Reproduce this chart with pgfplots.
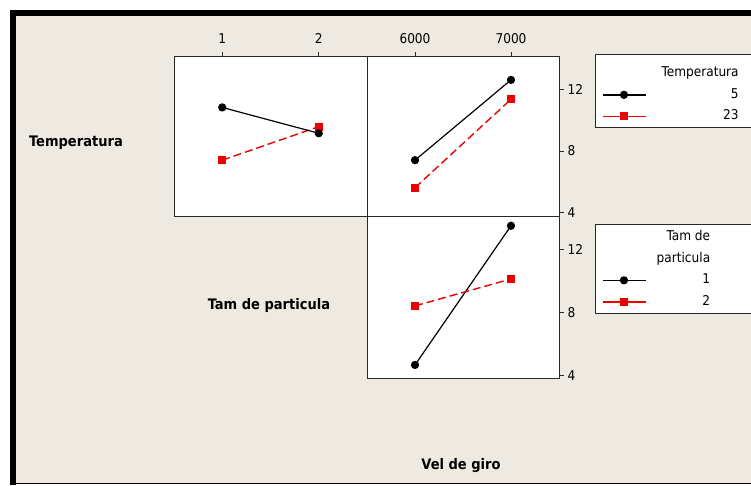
\documentclass[border=0pt]{standalone}
\usepackage{fontspec}
\setmainfont{DejaVu Sans Condensed}
\usepackage{pgfplots}
\pgfplotsset{compat=1.18}
\definecolor{bgc}{RGB}{238,234,225}
\definecolor{axc}{RGB}{40,40,40}
\definecolor{mred}{RGB}{236,0,0}
\newcommand{\tfont}{\fontsize{13.5}{15}\selectfont}
\newcommand{\lfont}{\bfseries\fontsize{14.5}{16}\selectfont}
\pgfplotsset{
  panel/.style={scale only axis, anchor=south west,
    axis background/.style={fill=white},
    axis line style={axc, line width=1pt},
    tick style={axc, line width=0.8pt},
    major tick length=5pt, tick align=outside,
    ticklabel style={font=\tfont},
    xticklabel style={yshift=5pt},
    /pgf/number format/assume math mode=true,
    /pgf/number format/1000 sep={},
    scaled ticks=false, clip=false},
  blk/.style={black, line width=1.2pt, mark=*, mark size=3.5pt, mark options={solid}},
  rd/.style={mred, line width=1.4pt, dash pattern=on 8pt off 4pt, mark=square*, mark size=3.4pt, mark options={solid}},
  leg/.style={legend cell align=right,
    legend image code/.code={\draw[##1, solid, line width=1.5pt] (0pt,0pt) -- (43pt,0pt);
      \draw[##1, solid] plot coordinates {(21pt,0pt)};},
    legend style={draw=none, fill=none, inner sep=0pt, row sep=4.5pt,
      nodes={inner sep=2pt, font=\tfont, text height=10pt, text depth=3pt}}},
}
\begin{document}
\begin{tikzpicture}
\fill[white] (0,0) rectangle (751pt,485pt);
\fill[bgc] (13pt,1.5pt) rectangle (751pt,472pt);
\draw[black, line width=6.5pt, line join=miter] (13pt,0pt) -- (13pt,472pt) -- (755pt,472pt);
\draw[black, line width=1.5pt] (13pt,1.5pt) -- (751pt,1.5pt);
% legend boxes
\draw[draw=axc, fill=white, line width=1pt] (595pt,430pt) rectangle (770pt,357pt);
\draw[draw=axc, fill=white, line width=1pt] (595pt,260pt) rectangle (770pt,172pt);
% top-left
\begin{axis}[panel, at={(174pt,269pt)}, width=193pt, height=159pt,
  xmin=0.5, xmax=2.5, ymin=3.77, ymax=14.11,
  xtick={1,2}, xtick pos=upper, xticklabel pos=upper, ytick=\empty]
\addplot[rd] coordinates {(1,7.40) (2,9.58)};
\addplot[blk] coordinates {(1,10.83) (2,9.15)};
\end{axis}
% top-right
\begin{axis}[panel, leg, at={(367pt,269pt)}, width=192pt, height=159pt,
  xmin=5500, xmax=7500, ymin=3.77, ymax=14.11,
  xtick={6000,7000}, xtick pos=upper, xticklabel pos=upper,
  ytick={4,8,12}, ytick pos=upper, yticklabel pos=upper,
  legend style={at={(axis description cs:1.224,0.952)}, anchor=north west,
    /tikz/every odd column/.append style={column sep=13pt}}]
\addlegendimage{empty legend}
\addlegendentry{Temperatura}
\addplot[blk] coordinates {(6000,7.40) (7000,12.62)};
\addlegendentry{5}
\addplot[rd] coordinates {(6000,5.61) (7000,11.36)};
\addlegendentry{23}
\end{axis}
% bottom
\begin{axis}[panel, leg, at={(367pt,107pt)}, width=192pt, height=162pt,
  xmin=5500, xmax=7500, ymin=3.85, ymax=14.14,
  xtick=\empty,
  ytick={4,8,12}, ytick pos=upper, yticklabel pos=upper,
  legend style={at={(axis description cs:1.224,0.922)}, anchor=north west,
    /tikz/every odd column/.append style={column sep=8pt}}]
\addlegendimage{empty legend}
\addlegendentry{Tam de}
\addlegendimage{empty legend}
\addlegendentry{particula}
\addplot[blk] coordinates {(6000,4.68) (7000,13.52)};
\addlegendentry{1}
\addplot[rd] coordinates {(6000,8.43) (7000,10.14)};
\addlegendentry{2}
\end{axis}
\node[font=\lfont] at (76pt,342pt) {Temperatura};
\node[font=\lfont] at (269pt,180pt) {Tam de particula};
\node[font=\lfont] at (461pt,19pt) {Vel de giro};
\pgfresetboundingbox
\useasboundingbox (0,0) rectangle (751pt,485pt);
\end{tikzpicture}
\end{document}
